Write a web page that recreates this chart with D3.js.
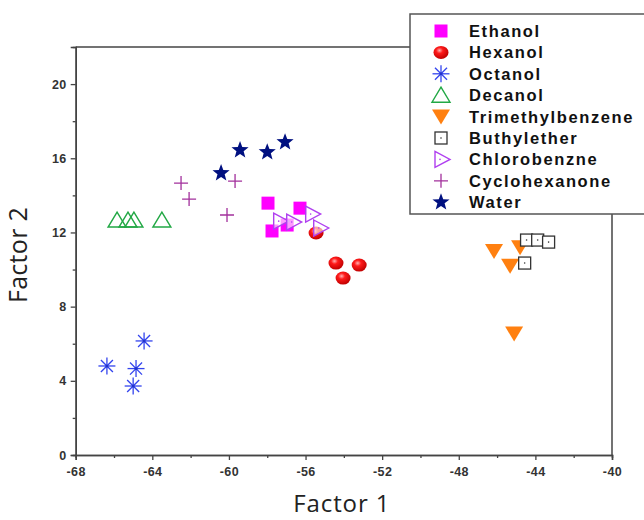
<!DOCTYPE html>
<html><head><meta charset="utf-8">
<script src="https://cdn.jsdelivr.net/npm/d3@7"></script>
<style>body{margin:0;background:#fff}svg{display:block}</style>
</head><body>
<script>
// ---- data ----
const seriesNames = ["Ethanol","Hexanol","Octanol","Decanol","Trimethylbenzene","Buthylether","Chlorobenzne","Cyclohexanone","Water"];
const ethanolX = [-57.96,-56.29,-57.75,-56.96];
const ethanolY = [13.58,13.31,12.08,12.4];
const hexanolX = [-55.45,-54.41,-54.04,-53.2];
const hexanolY = [11.97,10.35,9.54,10.24];
const octanolX = [-66.37,-64.43,-64.85,-65.0];
const octanolY = [4.80,6.15,4.66,3.72];
const decanolX = [-65.84,-65.27,-64.96,-63.5];
const decanolY = [12.67,12.67,12.67,12.67];
const tmbX = [-46.16,-44.8,-45.32,-45.11];
const tmbY = [11.0,11.2,10.2,6.55];
const butylX = [-44.46,-43.88,-43.31,-44.56];
const butylY = [11.59,11.59,11.48,10.35];
const chloroX = [-57.35,-56.67,-55.68,-55.26];
const chloroY = [12.61,12.56,12.99,12.24];
const cycloX = [-62.5,-62.08,-59.68,-60.1];
const cycloY = [14.66,13.8,14.77,12.94];
const waterX = [-60.41,-59.42,-58.0,-57.07];
const waterY = [15.2,16.44,16.33,16.87];
const xTicks = [-68,-64,-60,-56,-52,-48,-44,-40];
const yTicks = [0,4,8,12,16,20];

const seriesX = [ethanolX,hexanolX,octanolX,decanolX,tmbX,butylX,chloroX,cycloX,waterX];
const seriesY = [ethanolY,hexanolY,octanolY,decanolY,tmbY,butylY,chloroY,cycloY,waterY];

const W=644,H=520;
const L=75.7,R=612,T=47,B=455;
const svg=d3.select("body").append("svg").attr("width",W).attr("height",H);
const defs=svg.append("defs");
const grad=defs.append("radialGradient").attr("id","sph").attr("cx","40%").attr("cy","35%").attr("r","65%");
grad.append("stop").attr("offset","0%").attr("stop-color","#ffb0b0");
grad.append("stop").attr("offset","35%").attr("stop-color","#ff1a1a");
grad.append("stop").attr("offset","100%").attr("stop-color","#c00000");

const x=d3.scaleLinear().domain([-68,-40]).range([L,R]);
const y=d3.scaleLinear().domain([0,22]).range([B,T]);

const axisCol="#444";
svg.append("line").attr("x1",L).attr("x2",R).attr("y1",T).attr("y2",T).attr("stroke",axisCol).attr("stroke-width",1.5);
svg.append("line").attr("x1",R).attr("x2",R).attr("y1",T).attr("y2",B).attr("stroke",axisCol).attr("stroke-width",1.5);

const fmt=d=>String(d);
const fontTick="Liberation Sans, Arial, sans-serif";
const gx=svg.append("g").attr("transform",`translate(0,${B})`)
  .call(d3.axisBottom(x).tickValues(xTicks).tickFormat(fmt).tickSize(5).tickPadding(5));
const gy=svg.append("g").attr("transform",`translate(${L},0)`)
  .call(d3.axisLeft(y).tickValues(yTicks).tickFormat(fmt).tickSize(5).tickPadding(4));
const gxm=svg.append("g").attr("transform",`translate(0,${B})`)
  .call(d3.axisBottom(x).tickValues(d3.range(-66,-40,4)).tickFormat("").tickSize(3));
const gym=svg.append("g").attr("transform",`translate(${L},0)`)
  .call(d3.axisLeft(y).tickValues([2,6,10,14,18]).tickFormat("").tickSize(3));
[gx,gy,gxm,gym].forEach(g=>{
  g.selectAll(".domain").attr("stroke",axisCol).attr("stroke-width",1.5);
  g.selectAll(".tick line").attr("stroke",axisCol).attr("stroke-width",1.3);
  g.selectAll("text").attr("fill","#333").style("font-family",fontTick).style("font-size","12.5px").style("font-weight","bold").style("letter-spacing","0.4px");
});
gx.selectAll("text").attr("dy","0.9em");

svg.append("text").attr("x",(L+R)/2-2).attr("y",512).attr("text-anchor","middle")
  .style("font-family","Open Sans, Liberation Sans, sans-serif").style("font-size","24px").style("letter-spacing","0.9px").attr("fill","#222").text("Factor 1");
svg.append("text").attr("transform",`translate(27,255) rotate(-90)`).attr("text-anchor","middle")
  .style("font-family","Open Sans, Liberation Sans, sans-serif").style("font-size","25px").style("letter-spacing","0.3px").attr("fill","#222").text("Factor 2");

function star(r){const pts=[];for(let i=0;i<10;i++){const a=-Math.PI/2+i*Math.PI/5;const rr=i%2?r*0.42:r;pts.push([rr*Math.cos(a),rr*Math.sin(a)]);}return "M"+pts.map(p=>p.join(",")).join("L")+"Z";}
function drawMarker(g,i){
  switch(i){
    case 0: g.append("rect").attr("x",-6.5).attr("y",-6.5).attr("width",13).attr("height",13).attr("fill","#ff00ff");break;
    case 1: g.append("ellipse").attr("rx",7.5).attr("ry",6.5).attr("fill","url(#sph)");break;
    case 2: {const r=8.5;for(let k=0;k<4;k++){const a=k*Math.PI/4;g.append("line").attr("x1",-r*Math.cos(a)).attr("y1",-r*Math.sin(a)).attr("x2",r*Math.cos(a)).attr("y2",r*Math.sin(a)).attr("stroke","#3344ee").attr("stroke-width",1.3);}
      g.append("circle").attr("r",1.5).attr("fill","#2233cc");break;}
    case 3: g.append("path").attr("d","M0,-8L9,7L-9,7Z").attr("fill","none").attr("stroke","#22a845").attr("stroke-width",1.4);break;
    case 4: g.append("path").attr("d","M-9,-7L9,-7L0,8Z").attr("fill","#ff8010");break;
    case 5: g.append("rect").attr("x",-6).attr("y",-6).attr("width",12).attr("height",12).attr("fill","#fff").attr("stroke","#333").attr("stroke-width",1.3);
      g.append("circle").attr("r",0.8).attr("fill","#333");break;
    case 6: g.append("path").attr("d","M-6,-8L9,0L-6,8Z").attr("fill","#fff").attr("fill-opacity",0.6).attr("stroke","#b040f0").attr("stroke-width",1.4);
      g.append("circle").attr("r",0.8).attr("cx",-1).attr("fill","#b040f0");break;
    case 7: g.append("path").attr("d","M-7,0H7M0,-7V7").attr("stroke","#a2309c").attr("stroke-width",1.3);break;
    case 8: g.append("path").attr("d",star(9)).attr("fill","#001080");break;
  }
}

const plot=svg.append("g");
seriesNames.forEach((name,i)=>{
  const pts=seriesX[i].map((v,j)=>[v,seriesY[i][j]]);
  plot.selectAll(null).data(pts).enter().append("g")
    .attr("transform",d=>`translate(${x(d[0])},${y(d[1])})`)
    .each(function(){drawMarker(d3.select(this),i);});
});

const lg=svg.append("g");
lg.append("rect").attr("x",410).attr("y",14).attr("width",250).attr("height",200).attr("fill","#fff").attr("stroke","#555").attr("stroke-width",1.5);
seriesNames.forEach((name,i)=>{
  const yy=31+i*21.4;
  const g=lg.append("g").attr("transform",`translate(441,${yy})`);
  drawMarker(g,i);
  lg.append("text").attr("x",469).attr("y",yy+6).text(name)
    .style("font-family",fontTick).style("font-size","16.5px").style("font-weight","bold").style("letter-spacing","1.6px").attr("fill","#111");
});
</script>
</body></html>
